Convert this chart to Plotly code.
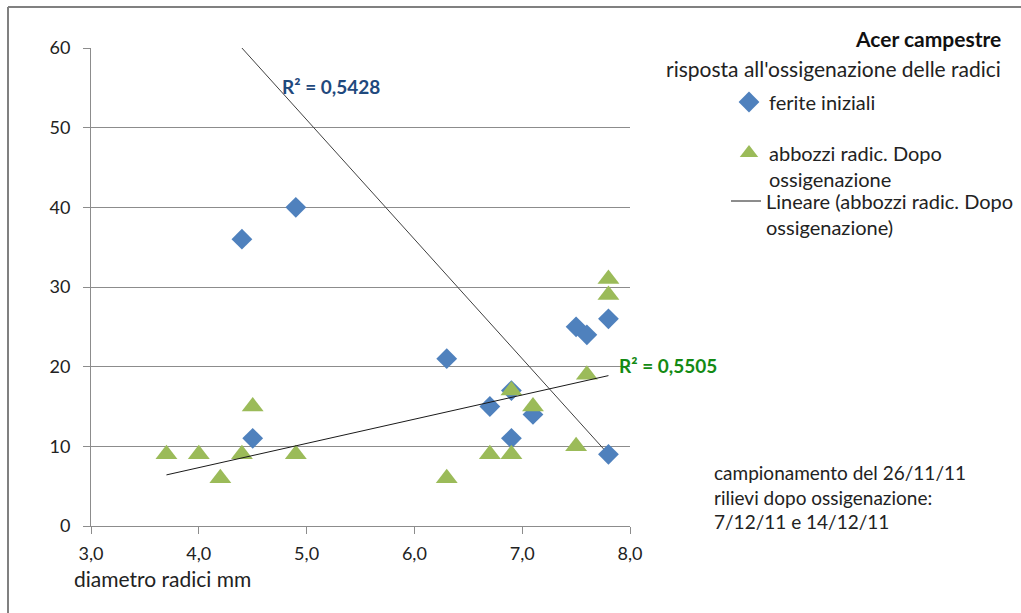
import numpy as np
import plotly.graph_objects as go

# ---- data ----
ferite_x = [4.4, 4.9, 4.5, 6.3, 6.7, 6.9, 6.9, 7.1, 7.5, 7.6, 7.8, 7.8]
ferite_y = [36, 40, 11, 21, 15, 17, 11, 14, 25, 24, 26, 9]

abbozzi_x = [3.7, 4.0, 4.2, 4.4, 4.5, 4.9, 6.3, 6.7, 6.9, 6.9, 7.1, 7.5, 7.6, 7.8, 7.8]
abbozzi_y = [9, 9, 6, 9, 15, 9, 6, 9, 9, 17, 15, 10, 19, 31, 29]

# trendline shown with R² = 0,5428 (coefficients)
trend1_coef = [-15.0, 126.0]   # slope, intercept
trend1_x = [4.4, 7.8]

x_ticks = [3.0, 4.0, 5.0, 6.0, 7.0, 8.0]
y_ticks = [0, 10, 20, 30, 40, 50, 60]

r2_labels = ["R² = 0,5428", "R² = 0,5505"]

FONT = "Lato"
BLUE = "#4F81BD"
GREEN = "#9BBB59"
TXT = "#222222"

# green trendline from linear regression of its series
c2 = np.polyfit(abbozzi_x, abbozzi_y, 1)
t2x = np.array([min(abbozzi_x), max(abbozzi_x)])
t2y = np.polyval(c2, t2x)

t1x = np.array(trend1_x)
t1y = np.polyval(trend1_coef, t1x)

fig = go.Figure()
fig.add_trace(go.Scatter(x=t1x, y=t1y, mode="lines", line=dict(color="#404040", width=1),
                         showlegend=False, hoverinfo="skip"))
fig.add_trace(go.Scatter(x=ferite_x, y=ferite_y, mode="markers", name="ferite iniziali",
                         marker=dict(symbol="diamond", size=16, color=BLUE, line=dict(width=0)),
                         legend="legend"))
fig.add_trace(go.Scatter(x=abbozzi_x, y=abbozzi_y, mode="markers",
                         name="abbozzi radic. Dopo<br>ossigenazione",
                         marker=dict(symbol="triangle-up", size=19, color=GREEN, line=dict(width=0)),
                         legend="legend2"))
fig.add_trace(go.Scatter(x=t2x, y=t2y, mode="lines", line=dict(color="#1a1a1a", width=1),
                         name="Lineare (abbozzi radic. Dopo<br>ossigenazione)", legend="legend3"))

L, R, T, B = 91, 391, 48, 87
PW, PH = 1021 - L - R, 613 - T - B


def px(xp):
    return (xp - L) / PW


def py(yp):
    return (613 - B - yp) / PH


legfont = dict(family=FONT, size=20, color=TXT)
common = dict(bgcolor="rgba(0,0,0,0)", borderwidth=0, font=legfont, xanchor="left",
              yanchor="middle", valign="top", itemsizing="trace")

fig.update_layout(
    width=1021, height=613,
    margin=dict(l=L, r=R, t=T, b=B, autoexpand=False),
    paper_bgcolor="white", plot_bgcolor="white",
    separators=",.",
    font=dict(family=FONT, size=18, color=TXT),
    xaxis=dict(range=[3, 8], tickvals=x_ticks, tickformat=".1f", showgrid=False,
               showline=True, linecolor="#8c8c8c", linewidth=1, ticks="outside",
               tickcolor="#8c8c8c", ticklen=7, zeroline=False, ticklabelstandoff=4,
               tickfont=dict(family=FONT, size=18, color=TXT)),
    yaxis=dict(range=[0, 60], tickvals=y_ticks, showgrid=True, gridcolor="#8c8c8c",
               gridwidth=1, showline=True, linecolor="#8c8c8c", linewidth=1,
               ticks="outside", tickcolor="#8c8c8c", ticklen=7, zeroline=False,
               ticklabelstandoff=9,
               tickfont=dict(family=FONT, size=18, color=TXT)),
    legend=dict(x=px(729), y=py(102), **common),
    legend2=dict(x=px(729), y=py(166), **common),
    legend3=dict(x=px(726), y=py(214), **common),
    hovermode=False,
)

# outer chart frame (top and left edges visible)
fig.add_shape(type="line", xref="paper", yref="paper", x0=px(8), x1=px(1030), y0=py(7), y1=py(7),
              line=dict(color="#808080", width=2))
fig.add_shape(type="line", xref="paper", yref="paper", x0=px(8), x1=px(8), y0=py(7), y1=py(620),
              line=dict(color="#808080", width=2))

fig.add_annotation(x=px(1003), y=py(38), xref="paper", yref="paper", text="<b>Acer campestre</b>",
                   showarrow=False, xanchor="right", yanchor="middle",
                   font=dict(family=FONT, size=21, color="#111111"))
fig.add_annotation(x=px(1003), y=py(68), xref="paper", yref="paper",
                   text="risposta all'ossigenazione delle radici",
                   showarrow=False, xanchor="right", yanchor="middle",
                   font=dict(family=FONT, size=21, color=TXT))
fig.add_annotation(x=px(280), y=py(86), xref="paper", yref="paper", text="<b>" + r2_labels[0] + "</b>",
                   showarrow=False, xanchor="left", yanchor="middle",
                   font=dict(family=FONT, size=19, color="#1F497D"))
fig.add_annotation(x=px(617), y=py(365), xref="paper", yref="paper", text="<b>" + r2_labels[1] + "</b>",
                   showarrow=False, xanchor="left", yanchor="middle",
                   font=dict(family=FONT, size=19, color="#138A13"))
fig.add_annotation(x=px(72), y=py(578), xref="paper", yref="paper", text="diametro radici mm",
                   showarrow=False, xanchor="left", yanchor="middle",
                   font=dict(family=FONT, size=21, color=TXT))
fig.add_annotation(x=px(712), y=py(497), xref="paper", yref="paper",
                   text="campionamento del 26/11/11<br>rilievi dopo ossigenazione:<br>7/12/11 e 14/12/11",
                   showarrow=False, xanchor="left", yanchor="middle", align="left",
                   font=dict(family=FONT, size=19, color=TXT))

fig.write_html("out.html", config={"displayModeBar": False},
               post_script="document.body.style.margin='0';")
